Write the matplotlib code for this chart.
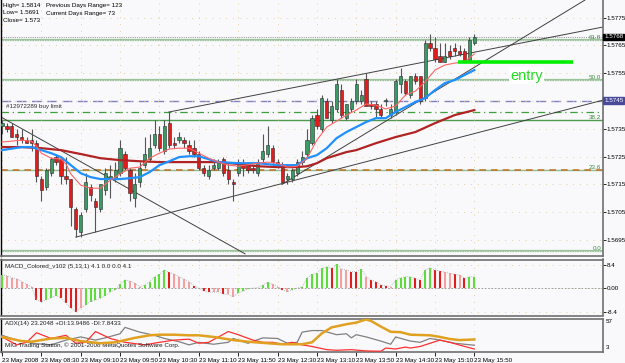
import matplotlib
matplotlib.use('Agg')
import matplotlib.pyplot as plt
import numpy as np

plt.rcParams['font.family'] = ['Liberation Sans', 'DejaVu Sans']

# ---- 5 minute EURUSD bars, 23 May 2008 07:50 .. 15:50 ----
open_ = [1.5736, 1.5736, 1.5736, 1.5733, 1.5732, 1.5731, 1.5731, 1.5730, 1.5717, 1.5714,
         1.5719, 1.5725, 1.5724, 1.5718, 1.5717, 1.5706, 1.5698, 1.5706, 1.5714, 1.5709,
         1.5706, 1.5713, 1.5717, 1.5717, 1.5719, 1.5726, 1.5720, 1.5710, 1.5716, 1.5722,
         1.5724, 1.5729, 1.5733, 1.5727, 1.5737, 1.5730, 1.5731, 1.5731, 1.5729, 1.5728,
         1.5726, 1.5721, 1.5718, 1.5721, 1.5721, 1.5724, 1.5720, 1.5716, 1.5719, 1.5722,
         1.5722, 1.5721, 1.5719, 1.5724, 1.5726, 1.5728, 1.5723, 1.5721, 1.5717, 1.5717,
         1.5719, 1.5723, 1.5726, 1.5730, 1.5740, 1.5735, 1.5745, 1.5738, 1.5742, 1.5749,
         1.5739, 1.5742, 1.5745, 1.5745, 1.5753, 1.5744, 1.5744, 1.5742, 1.5745, 1.5740,
         1.5741, 1.5751, 1.5752, 1.5747, 1.5754, 1.5754, 1.5746, 1.5766, 1.5764, 1.5761,
         1.5759, 1.5763, 1.5764, 1.5763, 1.5763, 1.5759, 1.5766]
high = [1.5738, 1.5737, 1.5737, 1.5735, 1.5735, 1.5732, 1.5735, 1.5731, 1.5718, 1.5721,
        1.5725, 1.5726, 1.5725, 1.5725, 1.5717, 1.5707, 1.5705, 1.5719, 1.5715, 1.5710,
        1.5715, 1.5721, 1.5722, 1.5723, 1.5731, 1.5727, 1.5721, 1.5719, 1.5723, 1.5732,
        1.5733, 1.5738, 1.5736, 1.5738, 1.5741, 1.5732, 1.5734, 1.5732, 1.5731, 1.5731,
        1.5727, 1.5722, 1.5722, 1.5724, 1.5724, 1.5725, 1.5723, 1.5717, 1.5724, 1.5724,
        1.5723, 1.5722, 1.5724, 1.5733, 1.5736, 1.5729, 1.5724, 1.5723, 1.5719, 1.5721,
        1.5724, 1.5727, 1.5735, 1.5740, 1.5742, 1.5747, 1.5746, 1.5745, 1.5753, 1.5751,
        1.5744, 1.5746, 1.5753, 1.5749, 1.5755, 1.5745, 1.5745, 1.5744, 1.5746, 1.5744,
        1.5753, 1.5757, 1.5753, 1.5754, 1.5755, 1.5754, 1.5767, 1.5769, 1.5768, 1.5766,
        1.5766, 1.5765, 1.5766, 1.5765, 1.5764, 1.5768, 1.5769]
low = [1.5733, 1.5734, 1.5732, 1.5729, 1.5730, 1.5730, 1.5727, 1.5716, 1.5709, 1.5713,
       1.5718, 1.5722, 1.5715, 1.5715, 1.5700, 1.5696, 1.5696, 1.5705, 1.5709, 1.5698,
       1.5705, 1.5711, 1.5710, 1.5716, 1.5718, 1.5720, 1.5709, 1.5707, 1.5714, 1.5721,
       1.5723, 1.5728, 1.5727, 1.5726, 1.5728, 1.5728, 1.5730, 1.5728, 1.5726, 1.5725,
       1.5720, 1.5718, 1.5717, 1.5720, 1.5720, 1.5718, 1.5715, 1.5709, 1.5718, 1.5718,
       1.5719, 1.5719, 1.5718, 1.5723, 1.5725, 1.5722, 1.5721, 1.5715, 1.5715, 1.5716,
       1.5718, 1.5722, 1.5725, 1.5729, 1.5735, 1.5734, 1.5739, 1.5737, 1.5741, 1.5739,
       1.5738, 1.5741, 1.5744, 1.5744, 1.5743, 1.5742, 1.5739, 1.5739, 1.5743, 1.5739,
       1.5740, 1.5748, 1.5747, 1.5746, 1.5751, 1.5744, 1.5745, 1.5763, 1.5759, 1.5759,
       1.5759, 1.5760, 1.5761, 1.5761, 1.5759, 1.5759, 1.5765]
close = [1.5737, 1.5735, 1.5732, 1.5732, 1.5731, 1.5730, 1.5730, 1.5718, 1.5713, 1.5720,
         1.5724, 1.5723, 1.5718, 1.5717, 1.5707, 1.5699, 1.5704, 1.5716, 1.5711, 1.5707,
         1.5715, 1.5719, 1.5718, 1.5720, 1.5728, 1.5721, 1.5712, 1.5715, 1.5721, 1.5726,
         1.5728, 1.5733, 1.5728, 1.5736, 1.5729, 1.5729, 1.5732, 1.5730, 1.5727, 1.5726,
         1.5721, 1.5719, 1.5720, 1.5722, 1.5723, 1.5719, 1.5717, 1.5715, 1.5723, 1.5721,
         1.5720, 1.5720, 1.5723, 1.5727, 1.5729, 1.5723, 1.5722, 1.5716, 1.5718, 1.5720,
         1.5723, 1.5725, 1.5731, 1.5739, 1.5736, 1.5746, 1.5739, 1.5743, 1.5751, 1.5740,
         1.5744, 1.5745, 1.5751, 1.5747, 1.5743, 1.5743, 1.5742, 1.5740, 1.5745, 1.5742,
         1.5752, 1.5754, 1.5748, 1.5754, 1.5752, 1.5745, 1.5766, 1.5764, 1.5760, 1.5759,
         1.5761, 1.5761, 1.5763, 1.5762, 1.5759, 1.5767, 1.5768]

# moving averages (bar index, price)
fast_ma_x = [0, 4, 6, 7, 8, 10, 12, 13, 14, 16, 18, 20, 22, 24, 26, 28, 30, 32, 34, 36, 38, 40, 42, 44, 46,
             48, 52, 54, 56, 58, 60, 62, 64, 66, 68, 70, 72, 74, 76, 78, 80, 82, 84, 86, 88, 90, 92, 94, 96]
fast_ma = [1.57302, 1.57309, 1.57305, 1.57287, 1.57262, 1.57244, 1.57241, 1.57223, 1.57187, 1.57147,
           1.57136, 1.57136, 1.57165, 1.57187, 1.57208, 1.57212, 1.57244, 1.57262, 1.57277, 1.57280,
           1.57280, 1.57262, 1.57244, 1.57230, 1.57219, 1.57215, 1.57226, 1.57230, 1.57226, 1.57212,
           1.57215, 1.57244, 1.57309, 1.57356, 1.57377, 1.57399, 1.57417, 1.57439, 1.57435, 1.57421,
           1.57432, 1.57471, 1.57485, 1.57518, 1.57561, 1.57579, 1.57586, 1.57590, 1.57619]
mid_ma_x = [0, 4, 6, 8, 10, 12, 14, 16, 18, 20, 22, 24, 26, 28, 30, 32, 34, 36, 38, 40, 44, 48,
            52, 56, 60, 62, 64, 66, 68, 70, 72, 74, 76, 78, 80, 82, 84, 86, 88, 90, 92, 94, 96]
mid_ma = [1.57273, 1.57284, 1.57284, 1.57273, 1.57262, 1.57248, 1.57219, 1.57190, 1.57176, 1.57169,
          1.57169, 1.57169, 1.57172, 1.57176, 1.57194, 1.57219, 1.57233, 1.57248, 1.57251, 1.57251,
          1.57230, 1.57226, 1.57226, 1.57219, 1.57219, 1.57244, 1.57255, 1.57280, 1.57316, 1.57338,
          1.57356, 1.57374, 1.57388, 1.57388, 1.57410, 1.57428, 1.57446, 1.57460, 1.57489, 1.57514,
          1.57525, 1.57543, 1.57561]
slow_ma_x = [0, 4, 8, 12, 16, 20, 24, 28, 32, 36, 40, 44, 48, 52, 56, 60, 62, 64, 66, 68, 70, 72,
             76, 80, 84, 88, 92, 96]
slow_ma = [1.57284, 1.57284, 1.57280, 1.57273, 1.57259, 1.57244, 1.57237, 1.57233, 1.57230, 1.57230,
           1.57230, 1.57230, 1.57223, 1.57215, 1.57212, 1.57212, 1.57215, 1.57226, 1.57244, 1.57255,
           1.57266, 1.57273, 1.57298, 1.57320, 1.57338, 1.57370, 1.57399, 1.57417]

# hand drawn objects
trend_lines = [((0, 49.4), (1.5739, 1.5690)),
               ((15.0, 122.2), (1.5696, 1.57453)),
               ((33.9, 122.2), (1.5741, 1.57716)),
               ((56.9, 118.5), (1.5715, 1.57813))]
fib_low, fib_high = 1.5691, 1.5814
fib_ratios = [0.0, 0.236, 0.382, 0.5, 0.618]
fib_names = ['0.0', '23.6', '38.2', '50.0', '61.8']
bid = 1.5768
alert_level = 1.5745
buy_limit = 1.5741
entry_bars = (92.7, 116.1)
entry_price = 1.5759

# MACD_Colored histogram, one value per bar, colour code g/r/p
macd = [4.8, 4.6, 3.8, 3.4, 2.4, 1.4, 0.6, -4.2, -4.8, -4.2,
        -3.4, -2.6, -3.4, -5.4, -7.2, -8.4, -7.2, -6.0, -4.8, -4.2,
        -3.6, -2.6, -1.4, -0.6, 1.4, 3.0, 2.6, 1.8, 0.6, 1.2,
        2.4, 4.2, 5.0, 6.6, 5.8, 5.0, 4.2, 3.4, 2.4, 1.0,
        0.1, -1.0, -1.4, -1.4, -1.2, -2.2, -2.2, -3.0, -1.8, -1.0,
        -0.2, 0.1, 0.2, 1.2, 2.2, 1.4, 0.6, -0.6, -1.2, -0.6,
        0.1, 0.6, 3.6, 5.0, 5.4, 7.2, 7.8, 7.2, 8.6, 7.0,
        6.6, 6.0, 6.0, 7.0, 4.2, 3.0, 2.4, 1.2, 1.0, 0.6,
        3.0, 3.8, 4.2, 4.2, 3.6, 3.0, 6.6, 7.4, 6.6, 6.2,
        5.8, 5.4, 5.0, 4.8, 3.6, 4.2, 4.1]
macd_col = list('gppppppr' 'rgggrrrrp' 'gggggggggp' 'ppggggg' 'rppppr' 'prrpprpp' 'gggggggpp' 'rpgggg'
                'ggggrgppr' 'rgprrrrp' 'ggggrrggrr' 'pprprgg')

# ADX(14) lines (bar index, value)
adx_x = [0, 4, 6, 10, 13, 16, 20, 23, 27, 30, 32, 35, 38, 40, 43, 47, 50, 54, 57, 61, 63, 65, 67,
         70, 72, 74, 75, 77, 79, 81, 83, 87, 89, 91, 93, 96]
adx = [27.3, 20.6, 19.6, 24.8, 25.8, 20.6, 17.1, 18.6, 25.8, 29.9, 30.9, 30.9, 29.9, 29.9, 27.3,
       22.2, 19.6, 17.1, 15.5, 15.5, 18.6, 33.0, 42.7, 47.8, 50.4, 55.5, 53.0, 44.0, 35.6, 35.0,
       30.9, 29.9, 27.3, 24.0, 22.2, 23.2]
plus_di_x = [0, 3, 6, 10, 13, 16, 19, 21, 24, 25, 28, 31, 33, 36, 38, 40, 43, 46, 47, 50, 53, 56,
             58, 60, 61, 63, 65, 68, 70, 71, 72, 74, 77, 79, 80, 83, 85, 87, 89, 92, 96]
plus_di = [29.9, 22.2, 17.1, 14.5, 22.2, 27.3, 22.2, 25.8, 32.4, 42.7, 35.0, 29.9, 24.8, 19.6,
           14.5, 18.6, 15.5, 18.6, 24.8, 17.1, 25.8, 24.8, 17.1, 18.6, 35.0, 37.6, 37.6, 30.9,
           32.4, 25.8, 30.9, 27.3, 20.6, 15.5, 27.3, 20.6, 18.6, 24.8, 22.2, 17.1, 13.9]
minus_di_x = [0, 3, 5, 7, 10, 13, 15, 17, 19, 22, 25, 29, 32, 35, 38, 40, 42, 46, 48, 51, 53, 55,
              57, 59, 61, 63, 66, 68, 71, 74, 77, 78, 80, 82, 83, 85, 87, 89, 91, 94, 96]
minus_di = [27.3, 14.5, 18.6, 34.0, 24.8, 29.9, 17.1, 18.6, 36.0, 24.8, 18.6, 14.5, 18.6, 22.2,
            23.7, 17.1, 18.6, 36.0, 30.9, 22.2, 18.6, 18.6, 15.5, 18.6, 14.5, 11.9, 6.8, 5.8,
            6.8, 4.7, 4.2, 9.4, 7.8, 10.9, 9.4, 11.9, 17.1, 22.2, 18.6, 12.0, 7.8]

price_ticks = [1.5775, 1.5765, 1.5755, 1.5735, 1.5725, 1.5715, 1.5705, 1.5695]
time_ticks = list(range(0, 97, 8))
time_labels = ['23 May 2008', '23 May 08:30', '23 May 09:10', '23 May 09:50', '23 May 10:30',
               '23 May 11:10', '23 May 11:50', '23 May 12:30', '23 May 13:10', '23 May 13:50',
               '23 May 14:30', '23 May 15:10', '23 May 15:50']

# ---------------- figure ----------------
W, H = 625, 363
bg = '#F9F9FC'
grid_kw = dict(color='#E3CFA0', linestyle=(0, (1, 6)), linewidth=0.7)
fs = 4.5

fig = plt.figure(figsize=(6.25, 3.63), dpi=100)
fig.patch.set_facecolor(bg)


def box(top, bottom, left=1.5, right=603):
    return [left / W, 1 - bottom / H, (right - left) / W, (bottom - top) / H]


ax = fig.add_axes(box(0, 255.5))
am = fig.add_axes(box(259.5, 315.5), sharex=ax)
aa = fig.add_axes(box(318.5, 352), sharex=ax)

for a in (ax, am, aa):
    a.set_facecolor(bg)
    a.yaxis.tick_right()
    a.tick_params(axis='y', labelsize=fs, length=2, pad=0.8, width=0.6, colors='black')
    for s in a.spines.values():
        s.set_color('#707070')
        s.set_linewidth(1.2)
    a.spines['left'].set_color('black')
    a.spines['left'].set_linewidth(1)
ax.spines['top'].set_visible(False)

ax.set_xlim(-0.1, 122.15)
ax.set_ylim(1.56894, 1.57813)

# grid
ax.set_yticks(price_ticks + [alert_level])
ax.set_yticklabels([f'{p:.4f}' for p in price_ticks] + [''])
ax.grid(True, **grid_kw)
ax.tick_params(axis='x', length=0, labelbottom=False)

# fibonacci levels
for r, name in zip(fib_ratios, fib_names):
    lvl = fib_low + r * (fib_high - fib_low)
    if name == '23.6':
        ax.axhline(lvl, color='#8FBC8F', lw=1.0, zorder=1)
        ax.axhline(lvl, color='#C07830', lw=1.2, ls=(0, (4, 3)), zorder=1)
    elif name == '38.2':
        ax.axhline(lvl, color='#4E9A4E', lw=1.0, zorder=1)
    else:
        ax.axhline(lvl, color='#9CC29C', lw=1.6, zorder=1)
        ax.axhline(lvl, color='#E8EEE8', lw=0.6, ls=(0, (1, 2)), zorder=1)
    ax.text(121.8, lvl, name, ha='right', va='bottom', fontsize=fs, color='#3C8C3C')

ax.axhline(bid, color='#A0A0A0', lw=0.8, ls=(0, (1, 1)), zorder=1)
ax.axhline(alert_level, color='#8080C0', lw=1.0, ls=(0, (7, 4)), zorder=1)
ax.axhline(buy_limit, color='#3CA03C', lw=0.9, ls=(0, (6, 3, 1, 3)), zorder=1)
ax.text(0.8, buy_limit + 0.00012, '#12972289 buy limit', fontsize=fs, color='#303030', va='bottom')

# trend lines
for xs, ys in trend_lines:
    ax.plot(xs, ys, color='#404040', lw=0.7, zorder=2)

# candles
idx = np.arange(len(close))
o = np.array(open_)
c = np.array(close)
ax.vlines(idx, low, high, color='#555555', lw=0.8, zorder=3)
up = c >= o
body = np.maximum(np.abs(c - o), 0.00002)
ax.bar(idx[up], body[up], bottom=np.minimum(o, c)[up], width=0.66, color='#3A9A64',
       edgecolor='#2A2A2A', linewidth=0.4, zorder=4)
ax.bar(idx[~up], body[~up], bottom=np.minimum(o, c)[~up], width=0.66, color='#E21B1B',
       edgecolor='#2A2A2A', linewidth=0.4, zorder=4)

# moving averages
ax.plot(slow_ma_x, slow_ma, color='#B02424', lw=1.6, zorder=5)
ax.plot(mid_ma_x, mid_ma, color='#2090FF', lw=1.6, zorder=5)
ax.plot(fast_ma_x, fast_ma, color='#FF6464', lw=0.8, zorder=5)

# entry mark
ax.plot(entry_bars, [entry_price, entry_price], color='#00EE00', lw=2.6, solid_capstyle='butt', zorder=6)
ax.text(103.3, 1.57540, 'entry', fontsize=10.5, color='#22DD22', va='center', ha='left',
        bbox=dict(boxstyle='square,pad=0.1', fc='white', ec='none'), zorder=6)

# right scale price boxes
ax.text(1.002, bid, f'{bid:.4f}', transform=ax.get_yaxis_transform(), fontsize=fs, color='white',
        va='center', ha='left', bbox=dict(boxstyle='square,pad=0.15', fc='black', ec='black'))
ax.text(1.002, alert_level, f'{alert_level:.4f}', transform=ax.get_yaxis_transform(), fontsize=fs,
        color='white', va='center', ha='left',
        bbox=dict(boxstyle='square,pad=0.15', fc='#4A4A9A', ec='#4A4A9A'))

# top-left info
info = [('High= 1.5814', 'Previous Days Range= 123'), ('Low= 1.5691', 'Current Days Range= 73'),
        ('Close= 1.573', '')]
for k, (left_txt, right_txt) in enumerate(info):
    yy = 1 - (5 + 8 * k) / H
    fig.text(3 / W, yy, left_txt, fontsize=fs, va='center', color='black')
    fig.text(46 / W, yy, right_txt, fontsize=fs, va='center', color='black')

# ---------------- MACD ----------------
cmap = {'g': '#5EDC3C', 'r': '#E01E1E', 'p': '#F4A0A0'}
am.set_ylim(-9.81, 10.38)
am.vlines(idx, 0, macd, colors=[cmap[k] for k in macd_col], lw=1.5, zorder=3)
am.plot(idx, macd, color='#A8A8A8', lw=0.6, ls=(0, (1, 1.5)), zorder=4)
am.axhline(0, color='#909090', lw=0.6, ls=(0, (2, 2)), zorder=2)
am.set_yticks([8.4, 0, -8.4])
am.set_yticklabels(['8.4', '0.00', '-8.4'])
am.grid(True, **grid_kw)
am.tick_params(axis='x', length=0, labelbottom=False)
am.text(0.006, 0.88, 'MACD_Colored_v102 (5,13,1) 4.1 0.0 0.0 4.1', transform=am.transAxes,
        fontsize=fs, va='center', color='#202020')

# ---------------- ADX ----------------
aa.set_ylim(3, 57)
aa.plot(adx_x, adx, color='#E0A020', lw=1.8, zorder=4)
aa.plot(plus_di_x, plus_di, color='#808080', lw=0.9, zorder=3)
aa.plot(minus_di_x, minus_di, color='#FF3030', lw=0.9, zorder=3)
aa.set_yticks([])
aa.text(1.005, 0.92, '57', transform=aa.transAxes, fontsize=fs, va='center')
aa.text(1.005, 0.12, '3', transform=aa.transAxes, fontsize=fs, va='center')
aa.text(0.006, 0.84, 'ADX(14) 23.2048 +DI:13.9486 -DI:7.8433', transform=aa.transAxes,
        fontsize=fs, va='center', color='#202020')
aa.text(0.006, 0.2, 'MIG Trading Station, \u00a9 2001-2008 MetaQuotes Software Corp.',
        transform=aa.transAxes, fontsize=fs, va='center', color='#202020')
aa.set_xticks(time_ticks)
aa.set_xticklabels(time_labels)
aa.grid(True, **grid_kw)
aa.tick_params(axis='x', labelsize=fs, length=3, pad=1, width=0.6)
for lab in aa.get_xticklabels():
    lab.set_ha('left')

fig.savefig('out.png', dpi=100, facecolor=bg)
